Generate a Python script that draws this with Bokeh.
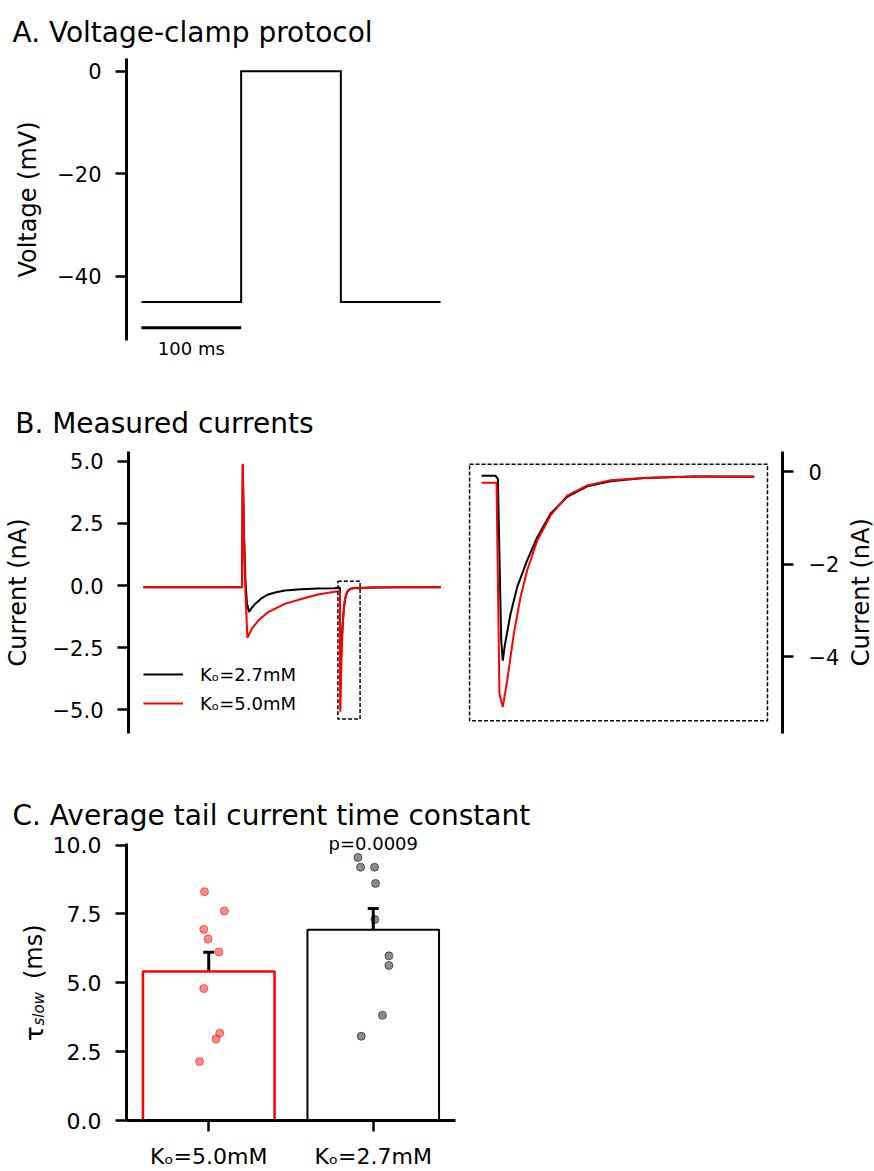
import numpy as np
from bokeh.plotting import figure
from bokeh.models import (Range1d, FixedTicker, Label, Legend, LegendItem,
                          Whisker, TeeHead, ColumnDataSource)
from bokeh.layouts import column, row
from bokeh.embed import file_html
from bokeh.resources import INLINE

FONT = "DejaVu Sans"

# ------------------------------------------------------------------ data
# A. voltage-clamp protocol
prot_t = [0, 100, 100, 200, 200, 300]
prot_v = [-45, -45, 0, 0, -45, -45]
scalebar_t = [0, 100]
scalebar_v = [-50, -50]
scalebar_text = "100 ms"
v_ticks = [-40, -20, 0]
v_tick_labels = ["−40", "−20", "0"]

# B. measured currents (time in ms, current in nA)
t_k27 = [0, 50, 99.6, 100.3, 101.5, 103.0, 104.5, 106.6, 109.0, 112.7, 119.0,
         126.0, 134.0, 142.7, 159.4, 176.2, 193.0, 197.2, 198.25, 198.43,
         198.68, 198.80, 198.95, 199.38, 199.88, 200.63, 201.39, 202.39,
         203.64, 205.15, 206.90, 209.40, 213.20, 217.70, 230, 260, 300]
i_k27 = [-0.07, -0.07, -0.07, 4.85, 2.2, 0.2, -0.7, -1.07, -0.92, -0.74, -0.52,
         -0.36, -0.27, -0.20, -0.15, -0.12, -0.11, -0.08, -0.08, -0.15,
         -3.64, -4.08, -3.75, -3.07, -2.49, -1.91, -1.41, -0.90,
         -0.54, -0.31, -0.20, -0.13, -0.10, -0.10, -0.08, -0.07, -0.07]
t_k50 = [0, 50, 99.6, 100.3, 101.5, 103.0, 105.0, 109.3, 116.0, 126.0, 142.7,
         159.4, 176.2, 193.0, 197.2, 198.33, 198.55, 198.80, 199.13, 199.63,
         200.13, 200.63, 201.39, 202.39, 203.64, 205.15, 206.90, 209.40,
         213.20, 217.70, 230, 260, 300]
i_k50 = [-0.07, -0.07, -0.07, 4.9, 2.0, -0.3, -2.11, -1.75, -1.41, -1.07, -0.74,
         -0.54, -0.36, -0.25, -0.23, -0.23, -4.80, -5.08, -4.51, -3.50,
         -2.71, -2.13, -1.48, -0.94, -0.51, -0.29, -0.18, -0.13,
         -0.10, -0.11, -0.08, -0.07, -0.07]
series_labels = ["Kₒ=2.7mM", "Kₒ=5.0mM"]
zoom_t = [196.3, 218.7]          # zoom window (ms)
zoom_i = [-5.38, 0.17]           # zoom window (nA)
zoom_view_t = [197.2, 217.7]     # part of the traces drawn in the zoom
i_ticks_main = [-5.0, -2.5, 0.0, 2.5, 5.0]
i_tick_labels_main = ["−5.0", "−2.5", "0.0", "2.5", "5.0"]
i_ticks_zoom = [-4, -2, 0]
i_tick_labels_zoom = ["−4", "−2", "0"]

# C. tail current time constant
categories = ["Kₒ=5.0mM", "Kₒ=2.7mM"]
tau_mean = [5.41, 6.93]
tau_sem = [0.70, 0.77]
tau_k50 = [8.31, 7.61, 6.94, 6.59, 6.12, 4.79, 3.17, 2.96, 2.14]
jit_k50 = [-0.026, 0.095, -0.030, -0.004, 0.062, -0.030, 0.067, 0.044, -0.056]
tau_k27 = [9.55, 9.20, 9.20, 8.61, 7.30, 5.98, 5.63, 3.82, 3.06]
jit_k27 = [-0.093, -0.077, 0.008, 0.014, 0.010, 0.095, 0.095, 0.056, -0.073]
p_text = "p=0.0009"
tau_ticks = [0, 2.5, 5, 7.5, 10]
tau_tick_labels = ["0.0", "2.5", "5.0", "7.5", "10.0"]


# ------------------------------------------------------------------ helpers
def clean(p):
    p.outline_line_color = None
    p.background_fill_color = "white"
    p.border_fill_color = "white"
    for g in p.grid:
        g.visible = False


def style_axis(ax, ticks, labels, size, standoff=14):
    ax.ticker = FixedTicker(ticks=ticks)
    ax.major_label_overrides = {t: l for t, l in zip(ticks, labels)}
    ax.major_label_text_font = FONT
    ax.major_label_text_font_size = size
    ax.major_label_text_color = "black"
    ax.major_label_standoff = standoff
    ax.axis_line_width = 3
    ax.axis_line_color = "black"
    ax.major_tick_line_width = 2.5
    ax.major_tick_line_color = "black"
    ax.major_tick_in = 0
    ax.major_tick_out = 11
    ax.minor_tick_in = 0
    ax.minor_tick_out = 0
    ax.axis_label_text_font = FONT
    ax.axis_label_text_font_style = "normal"
    ax.axis_label_text_font_size = "24px"
    ax.axis_label_text_color = "black"


def lab(p, side, x, y, text, size, **kw):
    # labels are placed in a side panel so that they are not clipped to the frame;
    # their position still follows the frame's data scales
    p.add_layout(Label(x=x, y=y, text=text, text_font=FONT,
                       text_font_size=size, text_color="black",
                       text_baseline=kw.pop("baseline", "alphabetic"),
                       text_align=kw.pop("align", "left"), **kw), side)


# ------------------------------------------------------------------ A
A_L, A_R, A_T, A_B = 126, 455, 58, 340
pA = figure(width=874, height=390, x_range=Range1d(-15, 315),
            y_range=Range1d(-52.5, 2.5), x_axis_location=None,
            output_backend="svg", toolbar_location=None,
            min_border_left=A_L, min_border_right=874 - A_R,
            min_border_top=A_T, min_border_bottom=390 - A_B)
clean(pA)
style_axis(pA.yaxis[0], v_ticks, v_tick_labels, "21px")
pA.yaxis.axis_label = "Voltage (mV)"
pA.yaxis.axis_label_standoff = 12
pA.line(prot_t, prot_v, line_color="black", line_width=2, line_join="miter")
pA.line(scalebar_t, scalebar_v, line_color="black", line_width=3)


def xA(px):
    return -15 + (px - A_L) * 330 / (A_R - A_L)


def yA(py):
    return 2.5 - (py - A_T) * 55 / (A_B - A_T)


lab(pA, "above", xA(12), yA(32), "A. Voltage-clamp protocol", "28px")
lab(pA, "right", float(np.mean(scalebar_t)), yA(348), scalebar_text, "18px", align="center")

# ------------------------------------------------------------------ B left
B_T, B_B = 61, 343  # frame top/bottom inside the 370px tall row
pBL = figure(width=460, height=370, x_range=Range1d(-15, 315),
             y_range=Range1d(-5.96, 5.397), x_axis_location=None,
             output_backend="svg", toolbar_location=None,
             min_border_left=126, min_border_right=5,
             min_border_top=B_T, min_border_bottom=370 - B_B)
clean(pBL)
style_axis(pBL.yaxis[0], i_ticks_main, i_tick_labels_main, "21px")
pBL.yaxis.axis_label = "Current (nA)"
pBL.yaxis.axis_label_standoff = 18
rk = pBL.line(t_k27, i_k27, line_color="black", line_width=2)
rr = pBL.line(t_k50, i_k50, line_color="red", line_width=2)
pBL.quad(left=[zoom_t[0]], right=[zoom_t[1]], bottom=[zoom_i[0]], top=[zoom_i[1]],
         fill_color=None, line_color="black", line_dash="4 2", line_width=1.5)
leg = Legend(items=[LegendItem(label=series_labels[0], renderers=[rk]),
                    LegendItem(label=series_labels[1], renderers=[rr])],
             location=(15, 16), glyph_width=40, glyph_height=28, label_height=28,
             spacing=1, padding=0, margin=0, label_standoff=17,
             border_line_alpha=0, background_fill_alpha=0,
             label_text_font=FONT, label_text_font_size="18px",
             label_text_color="black")
pBL.add_layout(leg)


def yB(py):  # page y -> data (B left), row starts at page y=390
    return 5.397 - (py - 390 - B_T) * (5.397 + 5.96) / (B_B - B_T)


lab(pBL, "above", xA(12), yB(422.7), "B. Measured currents", "28px")

# ------------------------------------------------------------------ B right
pBR = figure(width=414, height=370, x_range=Range1d(195.62, 219.83),
             y_range=Range1d(-5.654, 0.443), x_axis_location=None,
             y_axis_location="right",
             output_backend="svg", toolbar_location=None,
             min_border_left=0, min_border_right=92,
             min_border_top=B_T, min_border_bottom=370 - B_B)
clean(pBR)
style_axis(pBR.yaxis[0], i_ticks_zoom, i_tick_labels_zoom, "21px", standoff=15)
for tt, ii, col in [(t_k27, i_k27, "black"), (t_k50, i_k50, "red")]:
    ta, ia = np.array(tt), np.array(ii)
    m = (ta >= zoom_view_t[0]) & (ta <= zoom_view_t[1])
    pBR.line(ta[m], ia[m], line_color=col, line_width=2)
pBR.quad(left=[zoom_t[0]], right=[zoom_t[1]], bottom=[zoom_i[0]], top=[zoom_i[1]],
         fill_color=None, line_color="black", line_dash="4 2", line_width=1.5)
# right-hand axis title, reading bottom to top as in the reference
lab(pBR, "right", 195.62 + (860 - 460) / 13.30, -(591.7 - 471.5) / 46.25, "Current (nA)",
    "24px", align="center", angle=np.pi / 2)

# ------------------------------------------------------------------ C
C_T, C_B = 83, 363  # frame inside the 411px tall figure (page y 760..1171)
pC = figure(width=874, height=411, x_range=Range1d(-0.5, 1.5),
            y_range=Range1d(0, 10.06),
            output_backend="svg", toolbar_location=None,
            min_border_left=126, min_border_right=874 - 455,
            min_border_top=C_T, min_border_bottom=411 - C_B)
clean(pC)
style_axis(pC.yaxis[0], tau_ticks, tau_tick_labels, "22px")
style_axis(pC.xaxis[0], list(range(len(categories))), categories, "22px", standoff=12)

pos = list(range(len(categories)))
pC.vbar(x=pos, top=tau_mean, width=0.8, fill_color="white",
        line_color=["red", "black"], line_width=[2.5, 2])
pC.scatter([pos[0] + j for j in jit_k50], tau_k50, size=8, fill_color="red",
           fill_alpha=0.45, line_color="red", line_alpha=0.55, line_width=1)
pC.scatter([pos[1] + j for j in jit_k27], tau_k27, size=8, fill_color="black",
           fill_alpha=0.45, line_color="black", line_alpha=0.55, line_width=1)
err_src = ColumnDataSource(dict(x=pos,
                                upper=[m + s for m, s in zip(tau_mean, tau_sem)],
                                lower=[m - s for m, s in zip(tau_mean, tau_sem)]))
pC.add_layout(Whisker(source=err_src, base="x", upper="upper", lower="lower",
                      line_color="black", line_width=3,
                      upper_head=TeeHead(size=11, line_width=3, line_color="black"),
                      lower_head=TeeHead(size=11, line_width=3, line_color="black")))


def xC(px):
    return -0.5 + (px - 126) * 2 / (455 - 126)


def yC(py):  # page y -> data
    return (760 + C_B - py) * 10.06 / (C_B - C_T)


lab(pC, "above", xC(12), yC(815), "C. Average tail current time constant", "28px")
lab(pC, "above", pos[1], yC(843.3), p_text, "18px", align="center")
# y-axis title: tau with italic subscript "slow"
lab(pC, "right", xC(33.5), yC(1043), "τ", "25px", angle=np.pi / 2)
lab(pC, "right", xC(38), yC(1027), "slow", "15px", angle=np.pi / 2, text_font_style="italic")
lab(pC, "right", xC(33.5), yC(980), "(ms)", "24px", angle=np.pi / 2)

layout = column(pA, row(pBL, pBR, spacing=0), pC, spacing=0)
open("out.html", "w").write(file_html(layout, INLINE))
